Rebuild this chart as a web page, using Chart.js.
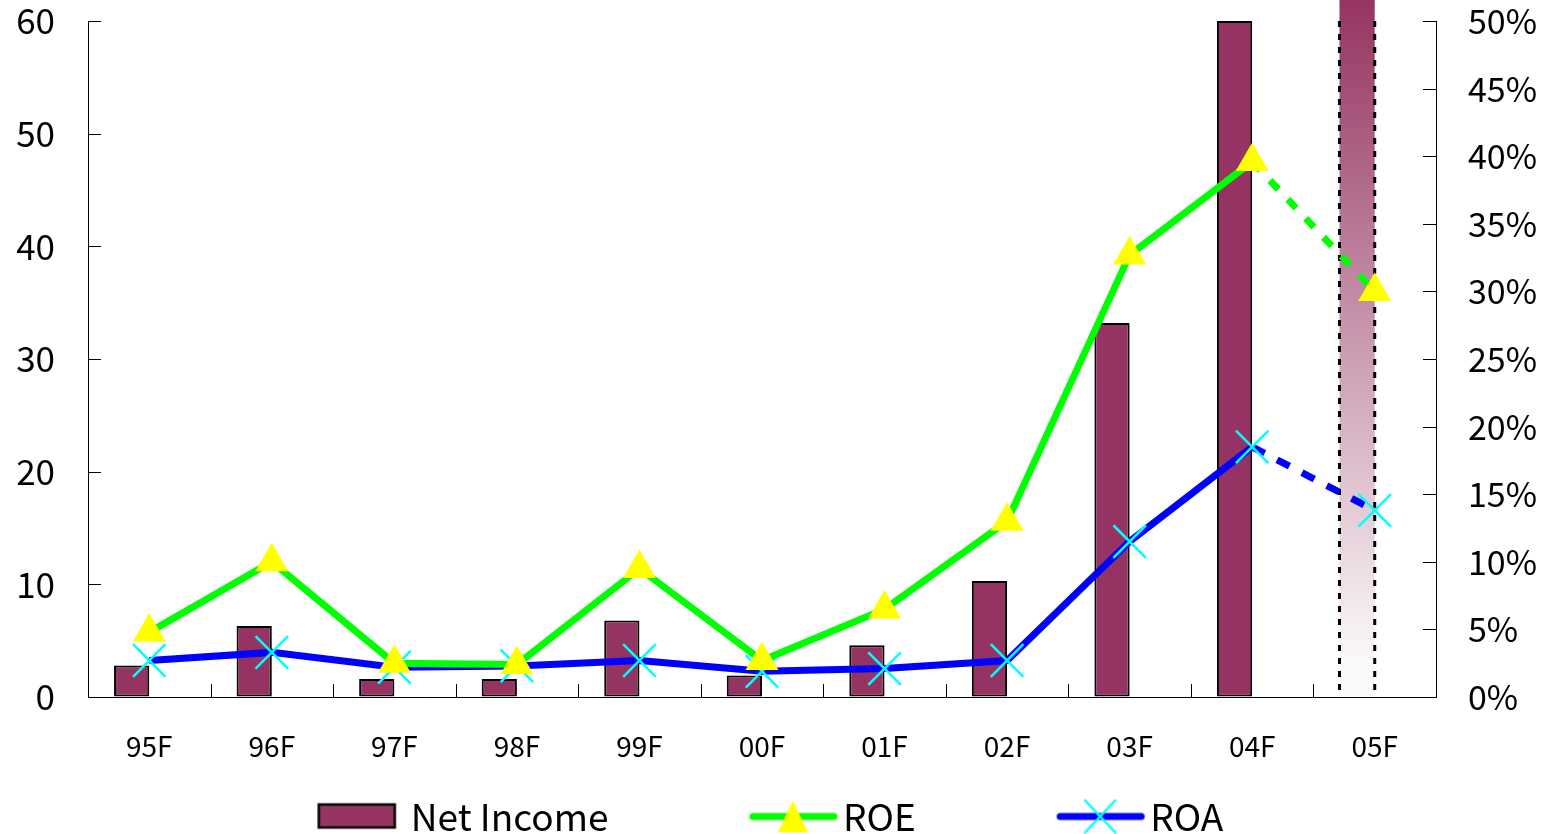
<!DOCTYPE html>
<html>
<head>
<meta charset="utf-8">
<script src="https://cdn.jsdelivr.net/npm/chart.js@4/dist/chart.umd.min.js"></script>
<style>
html, body { margin: 0; padding: 0; background: #fff; }
#wrap { width: 1547px; height: 834px; }
</style>
</head>
<body>
<div id="wrap"><canvas id="profitChart"></canvas></div>
<script>
// values
const labels = ['95F', '96F', '97F', '98F', '99F', '00F', '01F', '02F', '03F', '04F', '05F'];
const netIncome = [2.8, 6.3, 1.6, 1.6, 6.8, 1.9, 4.6, 10.3, 33.2, 60, 62];
const roe = [4.8, 10.0, 2.5, 2.4, 9.5, 2.7, 6.5, 13.0, 32.7, 39.6, 30.0];
const roa = [2.7, 3.3, 2.2, 2.3, 2.7, 1.9, 2.1, 2.7, 11.5, 18.5, 13.8];
const leftTicks = [0, 10, 20, 30, 40, 50, 60];
const rightTicks = [0, 5, 10, 15, 20, 25, 30, 35, 40, 45, 50];
const forecastIdx = labels.length - 1; // 05F is a forecast

const maroon = '#953462';
const fontFam = '"Noto Sans CJK JP", "Noto Sans", sans-serif';
const plotTop = 21;

// legend geometry
const legendFont = 37;
const legendPad = 20;
const boxW = 196;          // legend box width (swatch drawn at its right end)
const swatchToText = 93;   // from swatch start to text start, as in the reference

// legend swatches (line + marker like excel), drawn on a canvas used as point style
function makeSwatch(kind) {
    const extra = 60;
    const c = document.createElement('canvas');
    c.width = boxW + extra; c.height = 40;
    const g = c.getContext('2d');
    const s = extra / 2 + boxW + legendFont / 2 - swatchToText; // visible start
    if (kind === 'bar') {
        g.fillStyle = maroon;
        g.fillRect(s + 1, 8, 76, 23);
        g.strokeStyle = '#000'; g.lineWidth = 2.5;
        g.strokeRect(s + 1, 8, 76, 23);
    } else if (kind === 'roe') {
        g.strokeStyle = '#00ff00'; g.lineWidth = 7; g.lineCap = 'round';
        g.beginPath(); g.moveTo(s + 3, 20); g.lineTo(s + 84, 20); g.stroke();
        g.fillStyle = '#ffff00';
        const cx = s + 43;
        g.beginPath(); g.moveTo(cx, 4); g.lineTo(cx + 15, 36); g.lineTo(cx - 15, 36); g.closePath(); g.fill();
    } else {
        g.strokeStyle = '#0000ff'; g.lineWidth = 7; g.lineCap = 'round';
        g.beginPath(); g.moveTo(s + 3, 20); g.lineTo(s + 84, 20); g.stroke();
        g.strokeStyle = '#00ffff'; g.lineWidth = 2.5;
        const cx = s + 43;
        g.beginPath(); g.moveTo(cx - 15, 4); g.lineTo(cx + 15, 36); g.moveTo(cx + 15, 4); g.lineTo(cx - 15, 36); g.stroke();
    }
    return c;
}

// excel style ticks pointing into the plot
const innerTicks = {
    id: 'innerTicks',
    beforeDatasetsDraw(chart) {
        const { ctx, chartArea, scales } = chart;
        const len = 13;
        ctx.save();
        ctx.strokeStyle = '#000';
        ctx.lineWidth = 1;
        ctx.beginPath();
        scales.y.ticks.forEach(t => {
            const y = Math.round(scales.y.getPixelForValue(t.value)) + 0.5;
            ctx.moveTo(chartArea.left, y); ctx.lineTo(chartArea.left + len, y);
        });
        scales.y1.ticks.forEach(t => {
            const y = Math.round(scales.y1.getPixelForValue(t.value)) + 0.5;
            ctx.moveTo(chartArea.right - len, y); ctx.lineTo(chartArea.right, y);
        });
        const step = (chartArea.right - chartArea.left) / labels.length;
        for (let i = 1; i < labels.length; i++) {
            const x = Math.round(chartArea.left + i * step) + 0.5;
            ctx.moveTo(x, chartArea.bottom); ctx.lineTo(x, chartArea.bottom - len);
        }
        ctx.stroke();
        ctx.restore();
    }
};

// dotted outline for the forecast bar
const forecastOutline = {
    id: 'forecastOutline',
    afterDatasetDraw(chart, args) {
        if (args.index !== 0) return;
        const bar = chart.getDatasetMeta(0).data[forecastIdx];
        const { ctx, chartArea } = chart;
        const half = bar.width / 2;
        ctx.save();
        ctx.strokeStyle = '#000';
        ctx.lineWidth = 3;
        ctx.setLineDash([6, 7]);
        [bar.x - half, bar.x + half].forEach(x => {
            ctx.beginPath();
            ctx.moveTo(x, chartArea.top);
            ctx.lineTo(x, chartArea.bottom);
            ctx.stroke();
        });
        ctx.restore();
    }
};

// legend: fixed height and re-centred so the visible items sit in the middle
const legendFit = {
    id: 'legendFit',
    afterInit(chart) {
        const lg = chart.legend;
        const origFit = lg.fit;
        lg.fit = function () {
            origFit.call(this);
            this.height = 56;
            this.lineWidths[0] += boxW + legendFont / 2 - swatchToText + 6;
        };
    },
    // pin the top of the plot area
    afterLayout(chart) {
        const area = chart.chartArea;
        area.top = plotTop;
        area.height = area.bottom - plotTop;
        ['y', 'y1'].forEach(id => {
            const s = chart.scales[id];
            s.top = plotTop;
            s.height = s.bottom - plotTop;
            s.configure();
        });
    }
};

const forecastDash = (pattern) => (c) => c.p1DataIndex === forecastIdx ? pattern : undefined;

// fixed axis widths, no extra label padding above/below the value axes
const fixWidth = (w) => (s) => { s.width = w; s.paddingTop = 0; s.paddingBottom = 0; };

const ctx = document.getElementById('profitChart').getContext('2d');
const profitChart = new Chart(ctx, {
    type: 'bar',
    data: {
        labels: labels,
        datasets: [{
            label: 'Net Income',
            data: netIncome,
            yAxisID: 'y',
            order: 3,
            clip: false,
            backgroundColor: (c) => {
                if (c.dataIndex !== forecastIdx) return maroon;
                const area = c.chart.chartArea;
                if (!area) return maroon;
                const grad = c.chart.ctx.createLinearGradient(0, 0, 0, area.bottom - 34);
                grad.addColorStop(0, maroon);
                grad.addColorStop(1, '#fbf9fa');
                return grad;
            },
            borderColor: '#000',
            borderWidth: netIncome.map((v, i) => i === forecastIdx ? 0 : 2),
            borderSkipped: false,
            categoryPercentage: 0.575,
            barPercentage: 1
        }, {
            // empty partner so the bars sit left of the category centre
            label: 'spacer',
            data: labels.map(() => null),
            yAxisID: 'y',
            order: 4,
            categoryPercentage: 0.575,
            barPercentage: 1
        }, {
            type: 'line',
            label: 'ROE',
            data: roe,
            yAxisID: 'y1',
            order: 1,
            borderColor: '#00ff00',
            borderWidth: 7,
            pointStyle: 'triangle',
            pointRadius: 19,
            pointBackgroundColor: '#ffff00',
            pointBorderColor: '#ffff00',
            pointBorderWidth: 0,
            segment: { borderDash: forecastDash([12, 14]) }
        }, {
            type: 'line',
            label: 'ROA',
            data: roa,
            yAxisID: 'y1',
            order: 2,
            borderColor: '#0000ff',
            borderWidth: 7,
            pointStyle: 'crossRot',
            pointRadius: 23,
            pointBorderColor: '#00ffff',
            pointBorderWidth: 2.5,
            segment: { borderDash: forecastDash([14, 14]) }
        }]
    },
    options: {
        responsive: true,
        maintainAspectRatio: false,
        animation: false,
        layout: { padding: { top: 16, left: 0, right: 0, bottom: 0 } },
        plugins: {
            tooltip: { enabled: false },
            legend: {
                display: true,
                position: 'bottom',
                labels: {
                    usePointStyle: true,
                    pointStyleWidth: boxW,
                    padding: legendPad,
                    color: '#000',
                    font: { family: fontFam, size: legendFont },
                    generateLabels: () => [
                        { text: 'Net Income', pointStyle: makeSwatch('bar'), fillStyle: maroon, strokeStyle: '#000', lineWidth: 0, hidden: false, datasetIndex: 0 },
                        { text: 'ROE', pointStyle: makeSwatch('roe'), fillStyle: '#00ff00', strokeStyle: '#00ff00', lineWidth: 0, hidden: false, datasetIndex: 2 },
                        { text: 'ROA', pointStyle: makeSwatch('roa'), fillStyle: '#0000ff', strokeStyle: '#0000ff', lineWidth: 0, hidden: false, datasetIndex: 3 }
                    ]
                }
            }
        },
        scales: {
            x: {
                afterFit: (s) => { s.height = 81; },
                grid: { drawOnChartArea: false, drawTicks: false },
                border: { display: true, color: '#000', width: 1 },
                ticks: { color: '#000', padding: 33, font: { family: fontFam, size: 28 } }
            },
            y: {
                position: 'left',
                min: 0,
                max: 60,
                afterBuildTicks: (s) => { s.ticks = leftTicks.map(v => ({ value: v })); },
                afterFit: fixWidth(88),
                grid: { drawOnChartArea: false, drawTicks: false },
                border: { display: true, color: '#000', width: 1 },
                ticks: { color: '#000', padding: 33, font: { family: fontFam, size: 35 } }
            },
            y1: {
                position: 'right',
                min: 0,
                max: 50,
                afterBuildTicks: (s) => { s.ticks = rightTicks.map(v => ({ value: v })); },
                afterFit: fixWidth(111),
                grid: { drawOnChartArea: false, drawTicks: false },
                border: { display: true, color: '#000', width: 1 },
                ticks: {
                    color: '#000', padding: 32, font: { family: fontFam, size: 34 },
                    callback: (v) => v + '%'
                }
            }
        }
    },
    plugins: [innerTicks, forecastOutline, legendFit]
});
</script>
</body>
</html>
